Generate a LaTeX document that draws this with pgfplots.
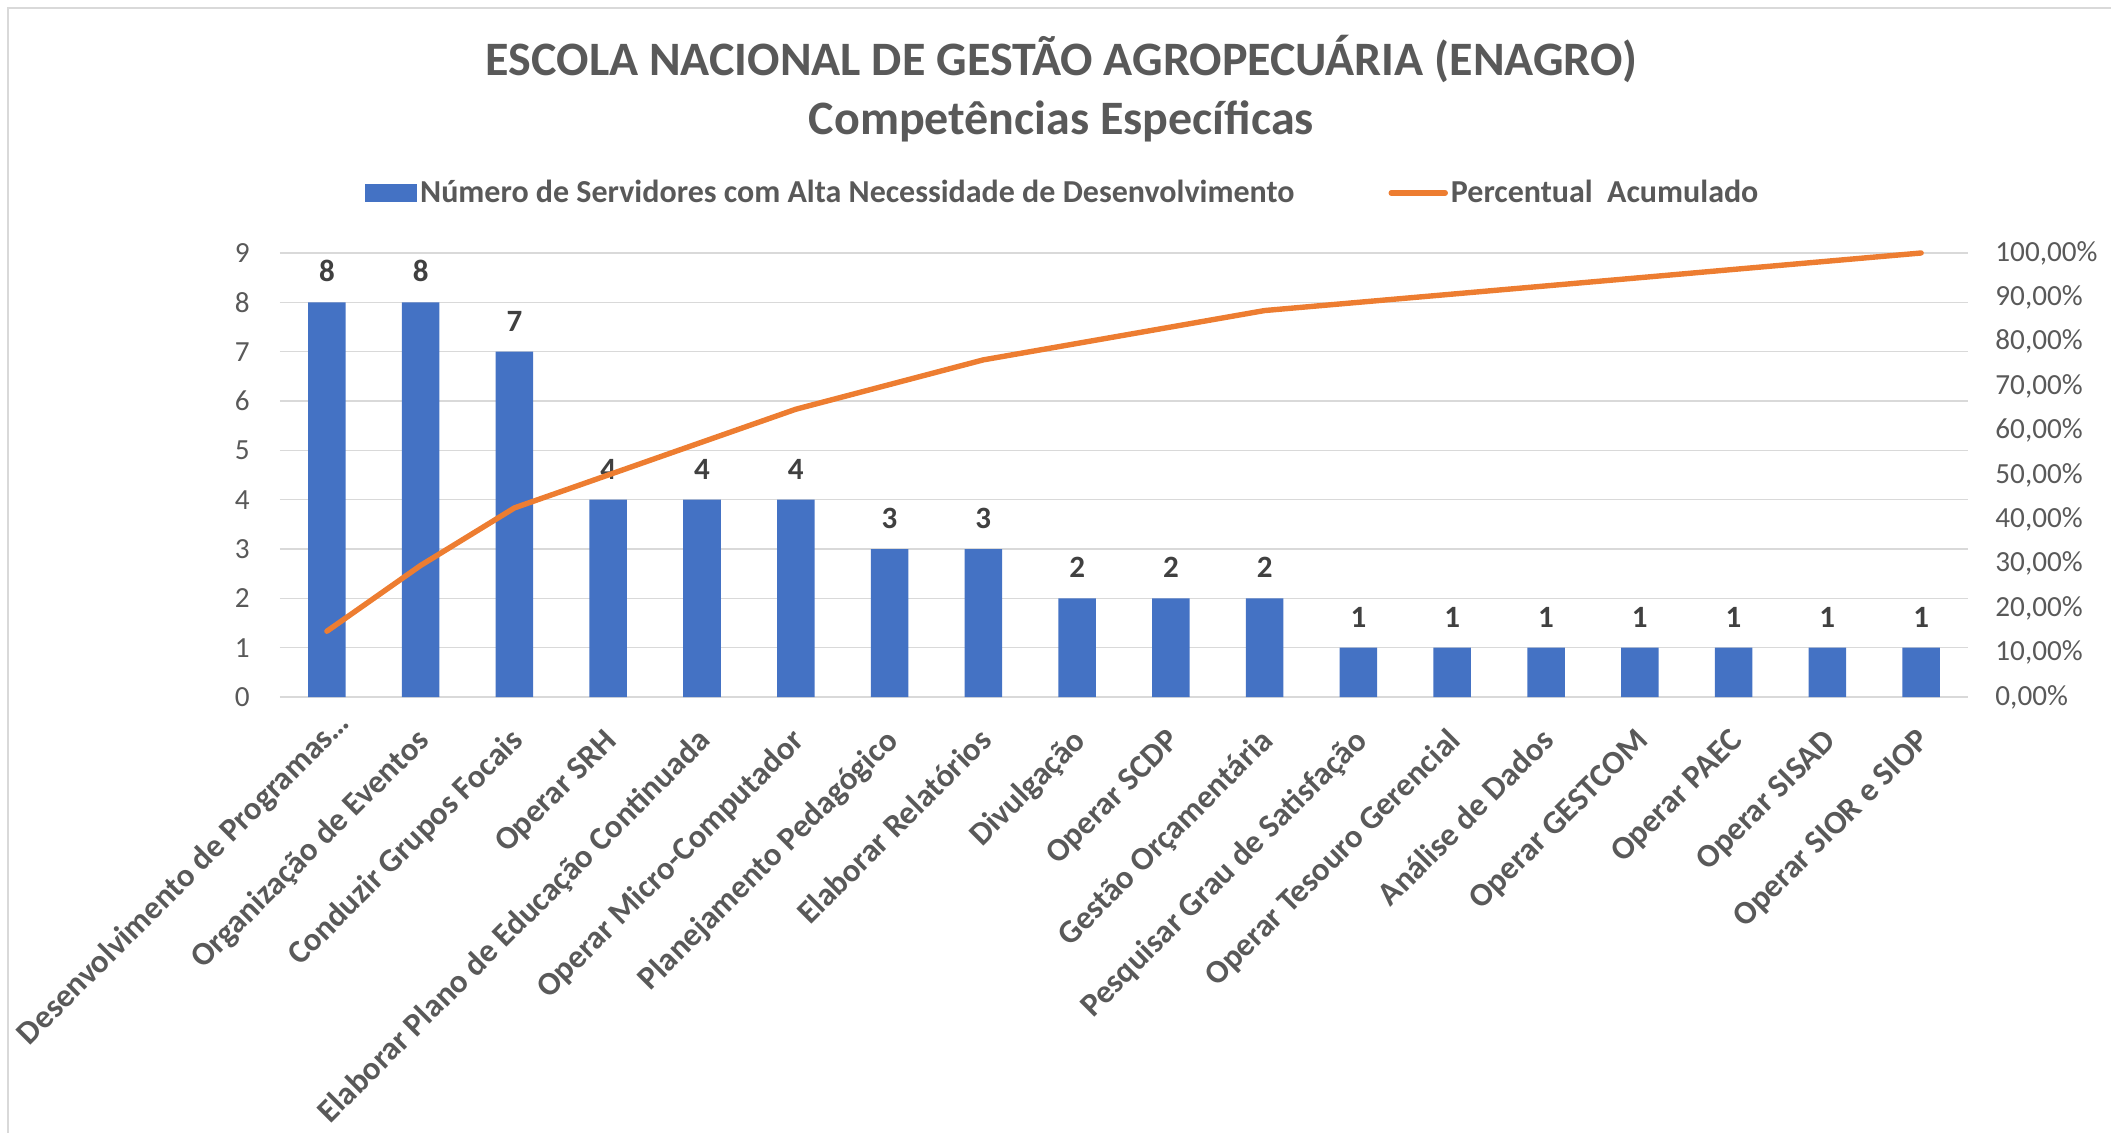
\documentclass[border=0pt]{standalone}
\usepackage{fontspec}
\setmainfont{Carlito}
\usepackage{pgfplots}
\pgfplotsset{compat=1.18}
\definecolor{barblue}{HTML}{4472C4}
\definecolor{lineorange}{HTML}{ED7D31}
\definecolor{textgray}{HTML}{595959}
\definecolor{labelgray}{HTML}{404040}
\definecolor{gridgray}{HTML}{D9D9D9}
\pgfplotsset{/pgf/number format/assume math mode=true}
\begin{document}
\begin{tikzpicture}
\path[use as bounding box] (0,0) rectangle (1055.5pt,-566.5pt);
\draw[gridgray, line width=0.8pt] (4pt,-566.5pt) -- (4pt,-4pt) -- (1055.5pt,-4pt);
\node[anchor=base, text=textgray, font=\bfseries\fontsize{24}{24}\selectfont] at (530.7pt,-38pt) {ESCOLA NACIONAL DE GESTÃO AGROPECUÁRIA (ENAGRO)};
\node[anchor=base, text=textgray, font=\bfseries\fontsize{24}{24}\selectfont] at (530.7pt,-67.5pt) {Competências Específicas};
\begin{axis}[
  at={(140pt,-348.5pt)}, anchor=south west,
  scale only axis, width=844pt, height=222pt,
  xmin=-0.5, xmax=17.5, ymin=0, ymax=9,
  ytick={0,1,2,3,4,5,6,7,8,9},
  xtick={1,2,3,4,5,6,7,8,9,10,11,12,13,14,15,16,17},
  xticklabels={{Organização de Eventos},{Conduzir Grupos Focais},{Operar SRH},{Elaborar Plano de Educação Continuada},{Operar Micro-Computador},{Planejamento Pedagógico},{Elaborar Relatórios},{Divulgação},{Operar SCDP},{Gestão Orçamentária},{Pesquisar Grau de Satisfação},{Operar Tesouro Gerencial},{Análise de Dados},{Operar GESTCOM},{Operar PAEC},{Operar SISAD},{Operar SIOR e SIOP}},
  extra x ticks={0},
  extra x tick labels={{Desenvolvimento de Programas\ldots}},
  extra x tick style={xticklabel style={xshift=11.5pt, yshift=1.3pt}},
  xticklabel style={xshift=0.5pt, yshift=-18pt, rotate=45, anchor=north east, inner sep=0pt, text height=0.64em, text depth=0.22em, font=\bfseries\fontsize{16.4}{16.4}\selectfont, text=textgray},
  yticklabel style={inner sep=0pt, xshift=-15pt, font=\fontsize{14.6}{14.6}\selectfont, text=textgray},
  axis line style={draw=none},
  major tick length=0pt,
  ymajorgrids,
  grid style={color=gridgray, line width=0.75pt},
  ybar, bar width=0.4,
  clip=false,
]
\addplot[fill=barblue, draw=none,
  nodes near coords,
  nodes near coords style={font=\bfseries\fontsize{15.5}{15.5}\selectfont, text=labelgray, anchor=south, inner sep=0pt, yshift=10pt}]
coordinates {(0,8) (1,8) (2,7) (3,4) (4,4) (5,4) (6,3) (7,3) (8,2) (9,2) (10,2) (11,1) (12,1) (13,1) (14,1) (15,1) (16,1) (17,1)};
\end{axis}
\begin{axis}[
  at={(140pt,-348.5pt)}, anchor=south west,
  scale only axis, width=844pt, height=222pt,
  xmin=-0.5, xmax=17.5, ymin=0, ymax=100,
  axis y line*=right, axis x line=none,
  ytick={0,10,20,30,40,50,60,70,80,90,100},
  yticklabels={{0,00\%},{10,00\%},{20,00\%},{30,00\%},{40,00\%},{50,00\%},{60,00\%},{70,00\%},{80,00\%},{90,00\%},{100,00\%}},
  yticklabel style={inner sep=0pt, xshift=13.5pt, anchor=west, font=\fontsize{14.6}{14.6}\selectfont, text=textgray},
  axis line style={draw=none},
  major tick length=0pt,
  legend columns=2,
  legend style={at={(0.05036,1.1351)}, anchor=west, draw=none, fill=none, inner sep=0pt,
    font=\bfseries\fontsize{16}{16}\selectfont, text=textgray,
    nodes={inner sep=1.5pt},
    /tikz/every even column/.append style={column sep=45.5pt}},
  clip=false,
]
\addlegendimage{legend image code/.code={\fill[barblue] (0pt,-4.25pt) rectangle (25.5pt,4.25pt);}}
\addlegendentry{Número de Servidores com Alta Necessidade de Desenvolvimento}
\addplot[color=lineorange, line width=2.7pt, line join=round, line cap=round, mark=none,
  legend image code/.code={\draw[lineorange, line width=2.7pt] (0pt,0pt) -- (27pt,0pt);}]
coordinates {(0,14.81) (1,29.63) (2,42.59) (3,50.00) (4,57.41) (5,64.81) (6,70.37) (7,75.93) (8,79.63) (9,83.33) (10,87.04) (11,88.89) (12,90.74) (13,92.59) (14,94.44) (15,96.30) (16,98.15) (17,100.00)};
\addlegendentry{Percentual\ \ Acumulado}
\end{axis}
\end{tikzpicture}
\end{document}
